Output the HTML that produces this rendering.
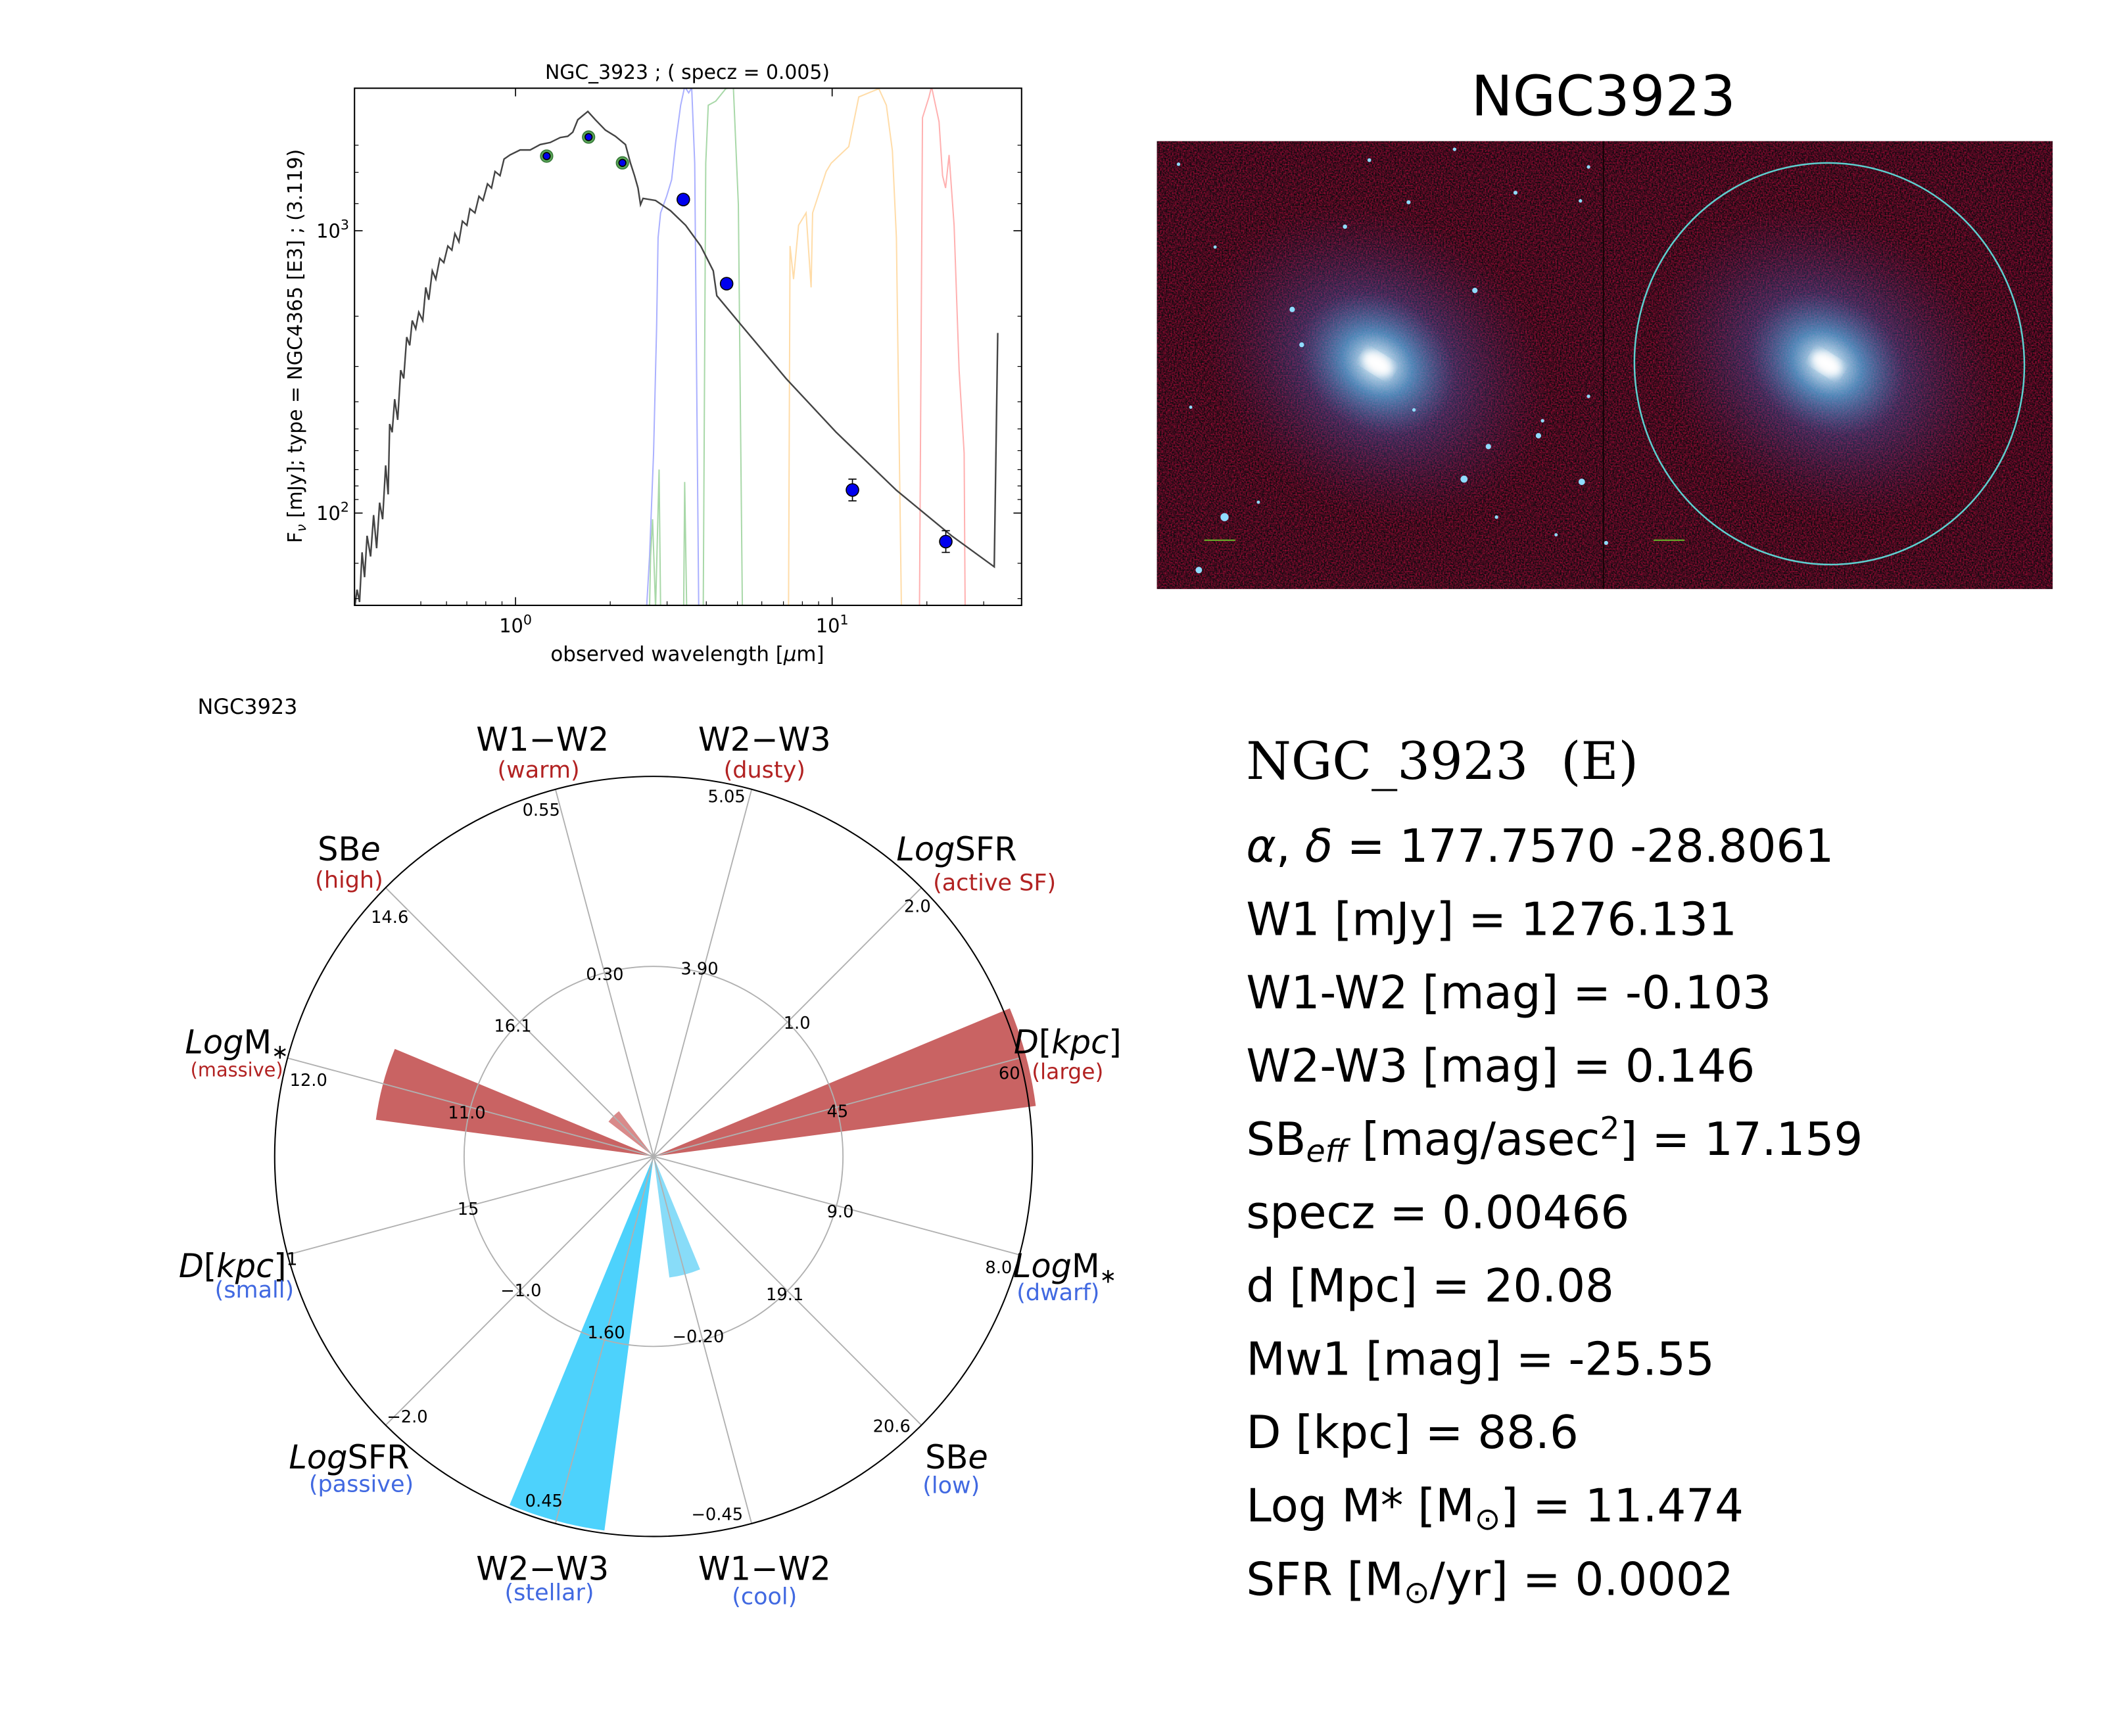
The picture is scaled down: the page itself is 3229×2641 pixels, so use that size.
<!DOCTYPE html>
<html><head><meta charset="utf-8"><style>
html,body{margin:0;padding:0;background:#fff;}
svg{display:block;}
text{font-family:"DejaVu Sans","Liberation Sans",sans-serif;}
</style></head><body>
<svg width="3229" height="2641" viewBox="0 0 1569 1279" preserveAspectRatio="none" xmlns="http://www.w3.org/2000/svg">
<defs>
<filter id="noise" x="0" y="0" width="100%" height="100%" color-interpolation-filters="sRGB">
<feTurbulence type="fractalNoise" baseFrequency="0.9" numOctaves="2" seed="3" result="t"/>
<feColorMatrix in="t" type="matrix" values="1.2 0 0 0 -0.3  0 0 0 0 0.04  0.3 0 0 0 -0.02  0 0 0 0 1"/>
</filter>
<filter id="blur2"><feGaussianBlur stdDeviation="3"/></filter>
<radialGradient id="halo" cx="50%" cy="50%" r="50%">
<stop offset="0" stop-color="#ffffff" stop-opacity="1"/>
<stop offset="0.07" stop-color="#c8ecff" stop-opacity="1"/>
<stop offset="0.2" stop-color="#5aaee8" stop-opacity="0.85"/>
<stop offset="0.45" stop-color="#4a5ab0" stop-opacity="0.45"/>
<stop offset="1" stop-color="#402060" stop-opacity="0"/>
</radialGradient>
<clipPath id="imgclip"><rect x="855" y="104" width="662" height="330"/></clipPath>
<clipPath id="sedclip"><rect x="262" y="65" width="493" height="381"/></clipPath>
</defs>

<!-- ============ SED PLOT ============ -->
<text x="508" y="58" font-size="14.5" text-anchor="middle">NGC_3923 ; ( specz = 0.005)</text>
<g clip-path="url(#sedclip)">
<g transform="translate(191.57,28.74) scale(0.3708,0.3050)" fill="none">
<polyline vector-effect="non-scaling-stroke" stroke="#aab0ff" stroke-width="2" points="772,1376 778,1250 786,1000 792,700 795,480 800,420 812,380 822,340 830,250 840,160 848,115 856,130 862,118 868,300 876,1376"/>
<polyline vector-effect="non-scaling-stroke" stroke="#a8d8a8" stroke-width="2" points="778,1376 780,1250 784,1160 790,1376 797,1040 800,1376 846,1376 848,1070 852,1376 885,1376 890,300 895,160 910,150 930,120 945,115 955,400 963,1376"/>
<polyline vector-effect="non-scaling-stroke" stroke="#ffdca8" stroke-width="2" points="1055,1376 1058,500 1065,580 1075,450 1090,420 1100,600 1103,420 1130,320 1140,300 1175,260 1195,140 1215,130 1235,120 1250,160 1262,270 1270,480 1280,1376"/>
<polyline vector-effect="non-scaling-stroke" stroke="#ffb0b0" stroke-width="2" points="1316,1376 1322,190 1335,140 1340,115 1355,200 1362,330 1368,360 1375,280 1385,450 1395,800 1405,1000 1407,1376"/>
<polyline vector-effect="non-scaling-stroke" stroke="#444" stroke-width="2.4" points="190,1376 195,1330 200,1360 205,1240 210,1300 215,1200 222,1250 228,1150 234,1230 240,1120 246,1160 252,1030 257,1100 260,930 265,950 270,870 276,920 282,800 288,820 294,720 300,740 305,680 312,700 318,660 326,680 332,600 338,630 345,560 352,580 360,530 368,540 376,500 384,510 390,470 398,490 405,440 414,450 420,410 430,420 438,380 446,390 455,350 463,360 470,320 480,330 488,290 500,280 520,268 540,268 560,255 580,250 600,238 615,235 625,225 635,195 645,185 655,175 670,195 690,220 710,235 730,255 740,300 748,330 755,360 760,400 765,385 790,390 820,415 850,450 880,500 905,560 912,620 960,690 1050,820 1150,950 1270,1090 1380,1200 1465,1275 1472,710"/>
</g>
</g>
<rect x="262" y="65" width="493" height="381" fill="none" stroke="#000" stroke-width="1"/>
<g stroke="#000" stroke-width="0.8">
<line x1="262" y1="170" x2="268" y2="170"/><line x1="755" y1="170" x2="749" y2="170"/>
<line x1="262" y1="378" x2="268" y2="378"/><line x1="755" y1="378" x2="749" y2="378"/>
<line x1="381" y1="446" x2="381" y2="440"/><line x1="381" y1="65" x2="381" y2="71"/>
<line x1="615" y1="446" x2="615" y2="440"/><line x1="615" y1="65" x2="615" y2="71"/>
</g>
<g stroke="#000" stroke-width="0.6">
<line x1="262" y1="107" x2="265" y2="107"/><line x1="262" y1="127" x2="265" y2="127"/><line x1="262" y1="150" x2="265" y2="150"/>
<line x1="262" y1="233" x2="265" y2="233"/><line x1="262" y1="270" x2="265" y2="270"/><line x1="262" y1="296" x2="265" y2="296"/><line x1="262" y1="316" x2="265" y2="316"/><line x1="262" y1="332" x2="265" y2="332"/><line x1="262" y1="346" x2="265" y2="346"/><line x1="262" y1="358" x2="265" y2="358"/><line x1="262" y1="368" x2="265" y2="368"/>
<line x1="262" y1="441" x2="265" y2="441"/><line x1="262" y1="415" x2="265" y2="415"/>
<line x1="755" y1="233" x2="752" y2="233"/><line x1="755" y1="270" x2="752" y2="270"/><line x1="755" y1="296" x2="752" y2="296"/><line x1="755" y1="316" x2="752" y2="316"/><line x1="755" y1="332" x2="752" y2="332"/><line x1="755" y1="346" x2="752" y2="346"/><line x1="755" y1="358" x2="752" y2="358"/><line x1="755" y1="368" x2="752" y2="368"/><line x1="755" y1="415" x2="752" y2="415"/><line x1="755" y1="441" x2="752" y2="441"/>
<line x1="755" y1="107" x2="752" y2="107"/><line x1="755" y1="127" x2="752" y2="127"/><line x1="755" y1="150" x2="752" y2="150"/>
<line x1="311" y1="446" x2="311" y2="443"/><line x1="330" y1="446" x2="330" y2="443"/><line x1="345" y1="446" x2="345" y2="443"/><line x1="359" y1="446" x2="359" y2="443"/><line x1="371" y1="446" x2="371" y2="443"/>
<line x1="451" y1="446" x2="451" y2="443"/><line x1="493" y1="446" x2="493" y2="443"/><line x1="522" y1="446" x2="522" y2="443"/><line x1="545" y1="446" x2="545" y2="443"/><line x1="563" y1="446" x2="563" y2="443"/><line x1="579" y1="446" x2="579" y2="443"/><line x1="593" y1="446" x2="593" y2="443"/><line x1="605" y1="446" x2="605" y2="443"/>
<line x1="685" y1="446" x2="685" y2="443"/><line x1="727" y1="446" x2="727" y2="443"/>
</g>
<text x="258" y="175" font-size="14" text-anchor="end">10<tspan font-size="10" dy="-6">3</tspan></text>
<text x="258" y="383" font-size="14" text-anchor="end">10<tspan font-size="10" dy="-6">2</tspan></text>
<text x="381" y="466" font-size="14" text-anchor="middle">10<tspan font-size="10" dy="-6">0</tspan></text>
<text x="615" y="466" font-size="14" text-anchor="middle">10<tspan font-size="10" dy="-6">1</tspan></text>
<text x="508" y="487" font-size="15" text-anchor="middle">observed wavelength [<tspan font-style="italic">μ</tspan>m]</text>
<text transform="translate(223,255) rotate(-90)" font-size="14.5" text-anchor="middle">F<tspan font-size="10" dy="3" font-style="italic">ν</tspan><tspan dy="-3"> [mJy];  type = NGC4365 [E3] ; (3.119)</tspan></text>
<g stroke="#000" stroke-width="0.8">
<circle cx="404" cy="115" r="4.5" fill="#5aa85a" stroke="#3a7a3a"/><circle cx="404" cy="115" r="2.6" fill="#0000ee"/>
<circle cx="435" cy="101" r="4.5" fill="#5aa85a" stroke="#3a7a3a"/><circle cx="435" cy="101" r="2.6" fill="#0000ee"/>
<circle cx="460" cy="120" r="4.5" fill="#5aa85a" stroke="#3a7a3a"/><circle cx="460" cy="120" r="2.6" fill="#0000ee"/>
<circle cx="505" cy="147" r="4.6" fill="#0000ee"/>
<circle cx="537" cy="209" r="4.6" fill="#0000ee"/>
<line x1="630" y1="353" x2="630" y2="369"/><line x1="627" y1="353" x2="633" y2="353"/><line x1="627" y1="369" x2="633" y2="369"/>
<circle cx="630" cy="361" r="4.6" fill="#0000ee"/>
<line x1="699" y1="391" x2="699" y2="407"/><line x1="696" y1="391" x2="702" y2="391"/><line x1="696" y1="407" x2="702" y2="407"/>
<circle cx="699" cy="399" r="4.6" fill="#0000ee"/>
</g>

<!-- ============ IMAGE PANEL ============ -->
<text x="1185" y="85" font-size="41" text-anchor="middle">NGC3923</text>
<g clip-path="url(#imgclip)">
<rect x="855" y="104" width="662" height="330" fill="#2a0a10"/>
<rect x="855" y="104" width="662" height="330" filter="url(#noise)" opacity="0.85"/>
<g transform="translate(1018,268) rotate(32)"><ellipse cx="0" cy="0" rx="135" ry="110" fill="url(#halo)" opacity="0.9"/><ellipse rx="12" ry="7" fill="#fff" filter="url(#blur2)"/></g>
<g transform="translate(1350,268) rotate(32)"><ellipse cx="0" cy="0" rx="135" ry="110" fill="url(#halo)" opacity="0.9"/><ellipse rx="12" ry="7" fill="#fff" filter="url(#blur2)"/></g>
<line x1="1185" y1="104" x2="1185" y2="434" stroke="#120305" stroke-width="1"/>
<g fill="#8fdcff">
<circle cx="905" cy="381" r="3"/><circle cx="1082" cy="353" r="2.6"/><circle cx="1100" cy="329" r="2"/><circle cx="1137" cy="321" r="2"/><circle cx="1169" cy="355" r="2.4"/><circle cx="1090" cy="214" r="2"/><circle cx="955" cy="228" r="2"/><circle cx="962" cy="254" r="1.8"/><circle cx="994" cy="167" r="1.6"/><circle cx="1041" cy="149" r="1.5"/><circle cx="1120" cy="142" r="1.5"/><circle cx="1012" cy="118" r="1.4"/><circle cx="871" cy="121" r="1.3"/><circle cx="1106" cy="381" r="1.3"/><circle cx="1140" cy="310" r="1.3"/><circle cx="886" cy="420" r="2.4"/><circle cx="1174" cy="123" r="1.3"/><circle cx="1168" cy="148" r="1.3"/><circle cx="1075" cy="110" r="1.3"/><circle cx="1045" cy="302" r="1.3"/><circle cx="1174" cy="292" r="1.3"/><circle cx="880" cy="300" r="1.2"/><circle cx="930" cy="370" r="1.2"/><circle cx="898" cy="182" r="1.2"/><circle cx="1150" cy="394" r="1.2"/><circle cx="1187" cy="400" r="1.5"/>
</g>
<ellipse cx="1352" cy="268" rx="144" ry="148" fill="none" stroke="#5ed0d0" stroke-width="1.2" transform="rotate(-8 1352 268)"/>
<line x1="890" y1="398" x2="913" y2="398" stroke="#6ab02a" stroke-width="1"/>
<line x1="1222" y1="398" x2="1245" y2="398" stroke="#6ab02a" stroke-width="1"/>
</g>

<!-- ============ POLAR PLOT ============ -->
<text x="146" y="526" font-size="15.5">NGC3923</text>
<path d="M483 852 L746.3 742.9 A285 285 0 0 1 765.5 814.8 Z" fill="#c96363"/>
<path d="M483 852 L277.8 825.0 A207 207 0 0 1 291.8 772.8 Z" fill="#c96363"/>
<path d="M483 852 L449.7 826.4 A42 42 0 0 1 457.4 818.7 Z" fill="#d98a8a"/>
<path d="M483 852 L446.7 1127.6 A278 278 0 0 1 376.6 1108.8 Z" fill="#4dd2fc"/>
<path d="M483 852 L517.4 935.2 A90 90 0 0 1 494.7 941.2 Z" fill="#88dcf8"/>
<g stroke="#b0b0b0" stroke-width="0.9" fill="none">
<circle cx="483" cy="852" r="140"/>
<line x1="483" y1="852" x2="555.5" y2="581.5"/><line x1="483" y1="852" x2="681" y2="654"/><line x1="483" y1="852" x2="753.5" y2="779.5"/><line x1="483" y1="852" x2="753.5" y2="924.5"/><line x1="483" y1="852" x2="681" y2="1050"/><line x1="483" y1="852" x2="555.5" y2="1122.5"/><line x1="483" y1="852" x2="410.5" y2="1122.5"/><line x1="483" y1="852" x2="285" y2="1050"/><line x1="483" y1="852" x2="212.5" y2="924.5"/><line x1="483" y1="852" x2="212.5" y2="779.5"/><line x1="483" y1="852" x2="285" y2="654"/><line x1="483" y1="852" x2="410.5" y2="581.5"/>
</g>
<circle cx="483" cy="852" r="280" fill="none" stroke="#000" stroke-width="1"/>
<g font-size="12.5" text-anchor="middle">
<text x="400" y="601">0.55</text><text x="537" y="591">5.05</text><text x="678" y="672">2.0</text><text x="746" y="795">60</text><text x="738" y="938">8.0</text><text x="659" y="1055">20.6</text><text x="530" y="1120">−0.45</text><text x="402" y="1110">0.45</text><text x="301" y="1048">−2.0</text><text x="228" y="800">12.0</text><text x="288" y="680">14.6</text>
<text x="447" y="722">0.30</text><text x="517" y="718">3.90</text><text x="589" y="758">1.0</text><text x="619" y="823">45</text><text x="621" y="897">9.0</text><text x="580" y="958">19.1</text><text x="516" y="989">−0.20</text><text x="448" y="986">1.60</text><text x="385" y="955">−1.0</text><text x="346" y="895">15</text><text x="345" y="824">11.0</text><text x="379" y="760">16.1</text>
</g>
<g font-size="24" text-anchor="middle">
<text x="401" y="553">W1−W2</text><text x="565" y="553">W2−W3</text>
<text x="707" y="634"><tspan font-style="italic">Log</tspan>SFR</text>
<text x="789" y="776"><tspan font-style="italic">D</tspan>[<tspan font-style="italic">kpc</tspan>]</text>
<text x="787" y="941"><tspan font-style="italic">Log</tspan>M<tspan font-size="15" dy="4">∗</tspan></text>
<text x="707" y="1082">SB<tspan font-style="italic">e</tspan></text>
<text x="565" y="1164">W1−W2</text><text x="401" y="1164">W2−W3</text>
<text x="258" y="1082"><tspan font-style="italic">Log</tspan>SFR</text>
<text x="176" y="941"><tspan font-style="italic">D</tspan>[<tspan font-style="italic">kpc</tspan>]<tspan font-size="13" dy="-9">1</tspan></text>
<text x="175" y="776"><tspan font-style="italic">Log</tspan>M<tspan font-size="15" dy="4">∗</tspan></text>
<text x="258" y="634">SB<tspan font-style="italic">e</tspan></text>
</g>
<g font-size="17" text-anchor="middle" fill="#b22222">
<text x="398" y="573">(warm)</text><text x="565" y="573">(dusty)</text><text x="735" y="656">(active SF)</text><text x="789" y="795" font-size="16">(large)</text><text x="175" y="793" font-size="14">(massive)</text><text x="258" y="654">(high)</text>
</g>
<g font-size="17" text-anchor="middle" fill="#4169e1">
<text x="782" y="958">(dwarf)</text><text x="703" y="1100">(low)</text><text x="565" y="1182">(cool)</text><text x="406" y="1179">(stellar)</text><text x="267" y="1099">(passive)</text><text x="188" y="956">(small)</text>
</g>

<!-- ============ TEXT PANEL ============ -->
<text x="921" y="574" font-size="38" xml:space="preserve" style="font-family:'DejaVu Serif','Liberation Serif',serif">NGC_3923  (E)</text>
<g font-size="33.5">
<text x="921" y="635"><tspan font-style="italic">α</tspan>, <tspan font-style="italic">δ</tspan> = 177.7570 -28.8061</text>
<text x="921" y="689">W1 [mJy] = 1276.131</text>
<text x="921" y="743">W1-W2 [mag] = -0.103</text>
<text x="921" y="797">W2-W3 [mag] = 0.146</text>
<text x="921" y="851">SB<tspan font-size="23" font-style="italic" dy="5">eff</tspan><tspan dy="-5"> [mag/asec</tspan><tspan font-size="23" dy="-12">2</tspan><tspan dy="12">] = 17.159</tspan></text>
<text x="921" y="905">specz = 0.00466</text>
<text x="921" y="959">d [Mpc] = 20.08</text>
<text x="921" y="1013">Mw1 [mag] = -25.55</text>
<text x="921" y="1067">D [kpc] = 88.6</text>
<text x="921" y="1121">Log M* [M<tspan font-size="23" dy="6">⊙</tspan><tspan dy="-6">] = 11.474</tspan></text>
<text x="921" y="1175">SFR [M<tspan font-size="23" dy="6">⊙</tspan><tspan dy="-6">/yr] = 0.0002</tspan></text>
</g>
</svg>
</body></html>
